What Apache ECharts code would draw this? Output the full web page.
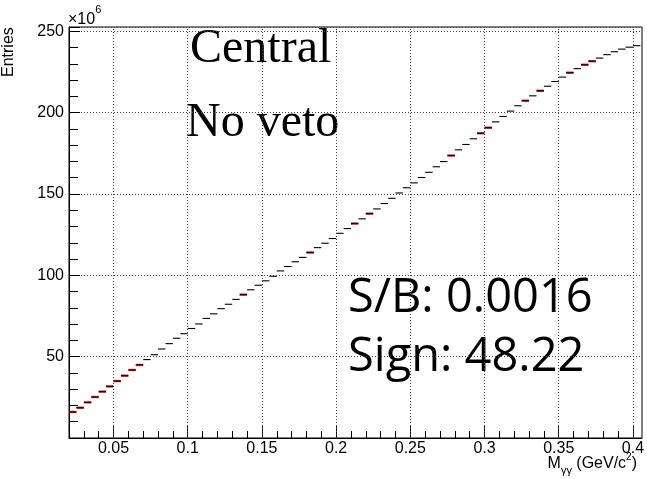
<!DOCTYPE html>
<html>
<head>
<meta charset="utf-8">
<script src="https://cdn.jsdelivr.net/npm/echarts@6/dist/echarts.min.js"></script>
<style>html,body{margin:0;padding:0;background:#fff}#c{width:647px;height:479px}</style>
</head>
<body>
<div id="c"></div>
<script>
// ---- data (values in units of 10^6 entries) ----
const binWidth = 0.005;
const binLow = [0.020,0.025,0.030,0.035,0.040,0.045,0.050,0.055,0.060,0.065,0.070,0.075,0.080,0.085,0.090,0.095,
  0.100,0.105,0.110,0.115,0.120,0.125,0.130,0.135,0.140,0.145,0.150,0.155,0.160,0.165,0.170,0.175,
  0.180,0.185,0.190,0.195,0.200,0.205,0.210,0.215,0.220,0.225,0.230,0.235,0.240,0.245,0.250,0.255,
  0.260,0.265,0.270,0.275,0.280,0.285,0.290,0.295,0.300,0.305,0.310,0.315,0.320,0.325,0.330,0.335,
  0.340,0.345,0.350,0.355,0.360,0.365,0.370,0.375,0.380,0.385,0.390,0.395,0.400];
const entries = [16.0,18.6,21.9,25.2,28.5,31.7,35.0,38.3,41.8,44.9,48.2,51.2,54.7,58.0,61.3,64.1,
  67.3,70.1,73.5,76.3,79.5,82.2,85.2,88.1,91.1,93.9,96.6,99.4,102.7,105.4,108.3,111.0,
  114.0,117.0,119.7,122.6,125.8,128.7,131.8,134.7,137.9,140.8,144.1,147.3,150.6,153.8,156.8,160.1,
  163.3,166.7,169.9,173.6,177.1,180.4,183.9,187.3,190.7,194.3,197.6,200.9,204.2,207.3,210.3,213.4,
  216.2,219.1,221.8,224.5,227.0,229.4,231.6,233.5,235.6,237.4,239.0,240.2,241.1];
const redBinLow = [0.020,0.025,0.030,0.035,0.040,0.045,0.050,0.055,0.060,0.065,0.135,0.180,0.210,0.220,
  0.275,0.295,0.300,0.325,0.335,0.355,0.365,0.370];
const redEntries = [16.0,18.6,21.9,25.2,28.5,31.7,35.0,38.3,41.8,44.9,88.1,114.0,131.8,137.9,
  173.6,187.3,190.7,207.3,213.4,224.5,229.4,231.6];
const xMajorTicks = [0.05,0.1,0.15,0.2,0.25,0.3,0.35,0.4];
const xMinorTicks = [0.03,0.04,0.06,0.07,0.08,0.09,0.11,0.12,0.13,0.14,0.16,0.17,0.18,0.19,0.21,0.22,0.23,0.24,
  0.26,0.27,0.28,0.29,0.31,0.32,0.33,0.34,0.36,0.37,0.38,0.39];
const xMin = 0.02, xMax = 0.4061, yMin = 0, yMax = 252.6;

const blackData = binLow.map((l, i) => [l, l + binWidth, entries[i]]);
const redData = redBinLow.map((l, i) => [l, l + binWidth, redEntries[i]]);

function segRenderer(color, width) {
  return function (params, api) {
    const a = api.coord([api.value(0), api.value(2)]);
    const b = api.coord([api.value(1), api.value(2)]);
    return { type: 'line', shape: { x1: a[0], y1: a[1], x2: b[0], y2: b[1] },
      style: { stroke: color, lineWidth: width } };
  };
}

const chart = echarts.init(document.getElementById('c'), null, { renderer: 'canvas' });
const FONT = 'Liberation Sans';
chart.setOption({
  animation: false,
  backgroundColor: '#fff',
  grid: { left: 69, right: 5, top: 27, bottom: 41, show: true, borderColor: '#000', borderWidth: 1,
    containLabel: false, outerBoundsMode: 'none' },
  xAxis: [{
    type: 'value', min: xMin, max: xMax, position: 'bottom',
    axisLine: { lineStyle: { color: '#000', width: 1 } },
    axisTick: { inside: true, length: 13, customValues: xMajorTicks, lineStyle: { color: '#000' } },
    axisLabel: { customValues: xMajorTicks, color: '#000', fontFamily: FONT, fontSize: 16, margin: 3,
      formatter: v => String(+v.toFixed(2)) },
    splitLine: { show: false }
  }, {
    type: 'value', min: xMin, max: xMax, position: 'bottom', offset: 0,
    axisLine: { show: false },
    axisTick: { inside: true, length: 7, customValues: xMinorTicks, lineStyle: { color: '#000' } },
    axisLabel: { show: false },
    splitLine: { show: false }
  }],
  yAxis: {
    type: 'value', min: yMin, max: yMax, interval: 50,
    axisLine: { show: true, lineStyle: { color: '#000', width: 1 } },
    axisTick: { show: true, inside: true, length: 11, lineStyle: { color: '#000' } },
    minorTick: { show: true, splitNumber: 5, length: 9, lineStyle: { color: '#000' } },
    axisLabel: { color: '#000', fontFamily: FONT, fontSize: 16, margin: 5,
      formatter: v => (v > 0 && Math.abs(v % 50) < 1e-6) ? String(v) : '' },
    splitLine: { show: true, lineStyle: { color: '#444', width: 1, type: [1, 2] } }
  },
  series: [{
    type: 'custom', xAxisIndex: 0, yAxisIndex: 0, data: redData, encode: { x: [0, 1], y: 2 },
    renderItem: segRenderer('#e8262a', 2.4), z: 3, clip: true
  }, {
    type: 'custom', xAxisIndex: 0, yAxisIndex: 0, data: blackData, encode: { x: [0, 1], y: 2 },
    renderItem: segRenderer('#000', 1.1), z: 4, clip: true,
    markLine: { silent: true, symbol: 'none', label: { show: false }, animation: false,
      lineStyle: { color: '#444', width: 1, type: [1, 2] },
      data: xMajorTicks.map(v => ({ xAxis: v })) }
  }],
  graphic: [
    { type: 'text', x: 9, y: 77, rotation: Math.PI / 2,
      style: { text: 'Entries', font: '16px "Liberation Sans"', fill: '#000', align: 'left', verticalAlign: 'middle' } },
    { type: 'text', x: 68, y: 4,
      style: { text: '{m|×10}{p|6}', fill: '#000', align: 'left', verticalAlign: 'top',
        rich: {
          m: { fontFamily: FONT, fontSize: 16, lineHeight: 24, verticalAlign: 'bottom' },
          p: { fontFamily: FONT, fontSize: 11, lineHeight: 12, verticalAlign: 'top' }
        } } },
    { type: 'text', right: 10, top: 452,
      style: { text: '{m|M}{s|γγ}{m| (GeV/c}{p|2}{m|)}', fill: '#000', align: 'left',
        rich: {
          m: { fontFamily: FONT, fontSize: 16, lineHeight: 24, verticalAlign: 'middle' },
          s: { fontFamily: FONT, fontSize: 11, lineHeight: 10, verticalAlign: 'bottom' },
          p: { fontFamily: FONT, fontSize: 10, lineHeight: 12, verticalAlign: 'top' }
        } } },
    { type: 'text', x: 190, y: 25,
      style: { text: 'Central', font: '48px "Liberation Serif"', fill: '#000', align: 'left', verticalAlign: 'top' } },
    { type: 'text', x: 186, y: 99,
      style: { text: 'No veto', font: '48px "Liberation Serif"', fill: '#000', align: 'left', verticalAlign: 'top' } },
    { type: 'text', x: 348, y: 275,
      style: { text: 'S/B: 0.0016', font: '47px "Open Sans"', fill: '#000', align: 'left', verticalAlign: 'top' } },
    { type: 'text', x: 348, y: 334,
      style: { text: 'Sign: 48.22', font: '47px "Open Sans"', fill: '#000', align: 'left', verticalAlign: 'top' } }
  ]
});
</script>
</body>
</html>
